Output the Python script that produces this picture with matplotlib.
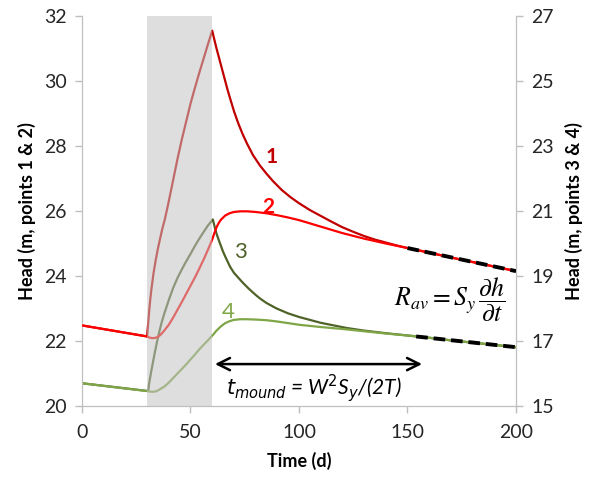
import matplotlib
matplotlib.use('Agg')
import matplotlib.pyplot as plt

plt.rcParams['font.family'] = ['Lato', 'DejaVu Sans']
plt.rcParams['mathtext.fontset'] = 'stix'

# points 1 & 2 (left axis, m)
t1 = [0, 30, 30.5, 31, 31.5, 32, 33, 34, 35, 36, 37, 38.2, 40, 42, 44, 46, 48, 50, 52,
      54, 56, 58, 60, 61, 62, 63, 64, 65, 66, 67, 68, 70, 72, 74, 76, 78.8, 82, 85, 88,
      92, 96, 100, 105, 110, 115, 120, 125, 130, 135, 140, 145, 150, 160, 170, 180,
      190, 200]
h1 = [22.48, 22.14, 22.55, 22.95, 23.3, 23.6, 24.1, 24.5, 24.85, 25.15, 25.45, 25.75,
      26.3, 26.95, 27.6, 28.2, 28.75, 29.3, 29.78, 30.24, 30.68, 31.12, 31.55, 31.27,
      31.0, 30.75, 30.5, 30.25, 30.0, 29.75, 29.52, 29.08, 28.7, 28.37, 28.08, 27.72,
      27.4, 27.15, 26.92, 26.65, 26.43, 26.24, 26.03, 25.85, 25.67, 25.5, 25.36, 25.23,
      25.12, 25.03, 24.94, 24.86, 24.72, 24.57, 24.43, 24.29, 24.15]

t2 = [0, 30, 31, 32, 33, 34, 35, 36, 37, 38, 40, 42, 44, 46, 48, 50, 52, 54, 56, 58,
      60, 61, 62, 63, 64, 66, 68, 70, 73, 76, 80, 85, 90, 95, 100, 110, 120, 130, 140,
      150, 160, 170, 180, 190, 200]
h2 = [22.48, 22.14, 22.11, 22.09, 22.09, 22.1, 22.13, 22.18, 22.25, 22.33, 22.5, 22.72,
      22.96, 23.2, 23.45, 23.7, 23.95, 24.22, 24.5, 24.8, 25.12, 25.32, 25.5, 25.63,
      25.73, 25.86, 25.93, 25.97, 25.99, 25.99, 25.97, 25.93, 25.87, 25.8, 25.72, 25.52,
      25.32, 25.15, 25.0, 24.86, 24.72, 24.57, 24.43, 24.29, 24.15]

# points 3 & 4 (right axis, m)
t3 = [0, 30.5, 31, 32, 33, 33.6, 34.5, 35.5, 36.7, 38, 40, 42, 44, 46, 47.5, 50, 52,
      53.6, 56, 58, 60.3, 61, 62, 63.6, 65, 66, 68.2, 70, 72, 74.3, 77, 80, 82, 85, 89.7,
      95, 100, 105, 110, 116, 122, 130, 140, 150, 160, 170, 180, 190, 200]
h3 = [15.70, 15.46, 15.72, 16.1, 16.45, 16.66, 16.95, 17.25, 17.57, 17.86, 18.26, 18.63,
      18.94, 19.2, 19.39, 19.68, 19.92, 20.1, 20.35, 20.55, 20.74, 20.55, 20.3, 20.0,
      19.75, 19.6, 19.29, 19.1, 18.95, 18.78, 18.6, 18.42, 18.31, 18.17, 18.0, 17.85,
      17.74, 17.65, 17.56, 17.48, 17.4, 17.32, 17.24, 17.17, 17.1, 17.02, 16.95, 16.88,
      16.81]

t4 = [0, 30, 32, 33, 34, 35, 36, 38, 40, 42, 44, 46, 48, 50, 52, 54, 56, 58, 60.5, 62,
      64, 66, 68, 70, 73, 76, 80, 85, 90, 95, 100, 110, 120, 130, 140, 150, 160, 170,
      180, 190, 200]
h4 = [15.70, 15.46, 15.44, 15.44, 15.45, 15.48, 15.52, 15.6, 15.72, 15.86, 16.0, 16.14,
      16.28, 16.43, 16.58, 16.74, 16.88, 17.02, 17.2, 17.32, 17.45, 17.55, 17.61, 17.65,
      17.67, 17.67, 17.66, 17.64, 17.6, 17.55, 17.5, 17.43, 17.37, 17.3, 17.23, 17.17,
      17.1, 17.02, 16.95, 16.88, 16.81]

# late-time slope lines
fit12_t = [150, 200]
fit12_h = [24.86, 24.15]
fit34_t = [154, 200]
fit34_h = [17.14, 16.81]

recharge = (30, 60)
t_mound = (60, 158)

c1, c2, c3, c4 = '#C00000', '#FF0000', '#4F6228', '#7FA646'
spine_c = '#BFBFBF'

fig = plt.figure(figsize=(5.92, 4.83), dpi=100)
ax = fig.add_axes([0.1385, 0.1594, 0.7331, 0.8075])
ax2 = ax.twinx()
ax.set_zorder(ax2.get_zorder() + 1)
ax.patch.set_visible(False)

ax.plot(t1, h1, color=c1, lw=1.6, zorder=2)
ax.plot(t2, h2, color=c2, lw=1.6, zorder=3)
ax2.plot(t3, h3, color=c3, lw=1.6, zorder=2)
ax2.plot(t4, h4, color=c4, lw=1.6, zorder=3)
ax.plot(fit12_t, fit12_h, color='black', lw=2.8, ls=(0, (3, 1.5)), zorder=6)
ax2.plot(fit34_t, fit34_h, color='black', lw=2.8, ls=(0, (3, 1.5)), zorder=6)

# shaded recharge period drawn over all curves (ax sits above ax2)
ax.axvspan(recharge[0], recharge[1], color='#C3C3C3', alpha=0.55, lw=0, zorder=5)

ax.set_xlim(0, 200)
ax.set_ylim(20, 32)
ax2.set_ylim(15, 27)
ax.set_xticks(range(0, 201, 50))
ax.set_yticks(range(20, 33, 2))
ax2.set_yticks(range(15, 28, 2))

for a in (ax, ax2):
    for s in a.spines.values():
        s.set_color(spine_c)
    a.spines['top'].set_visible(False)
    a.tick_params(colors=spine_c, labelcolor='#262626', labelsize=14, length=5, width=1)
ax.tick_params(axis='x', pad=8)
ax.tick_params(axis='y', pad=6)
ax2.tick_params(axis='y', pad=6)

ax.set_xlabel('Time (d)', fontsize=13, fontweight='bold', labelpad=8)
ax.set_ylabel('Head (m, points 1 & 2)', fontsize=13, fontweight='bold', labelpad=6)
ax2.set_ylabel('Head (m, points 3 & 4)', fontsize=13, fontweight='bold', labelpad=8,
               rotation=90)

ax.text(87.4, 27.67, '1', color=c1, fontsize=15, fontweight='bold', ha='center', va='center')
ax.text(85.9, 26.13, '2', color=c2, fontsize=15, fontweight='bold', ha='center', va='center')
ax2.text(72.8, 19.75, '3', color=c3, fontsize=16, ha='center', va='center')
ax2.text(67.4, 17.9, '4', color=c4, fontsize=16, ha='center', va='center')

ax.annotate('', xy=(t_mound[0], 21.29), xytext=(t_mound[1], 21.29),
            arrowprops=dict(arrowstyle='<->', color='black', lw=1.8, mutation_scale=22),
            zorder=7)
ax.text(107, 20.55, r'$t_{mound}$ = W$^2$S$_y$/(2T)', fontsize=15, style='italic',
        ha='center', va='center', zorder=7,
        math_fontfamily='dejavusans')
ax.text(195, 23.25, r'$R_{av} = S_y\,\dfrac{\partial h}{\partial t}$', fontsize=18.5,
        ha='right', va='center', zorder=7)

fig.savefig('out.png', dpi=100)
